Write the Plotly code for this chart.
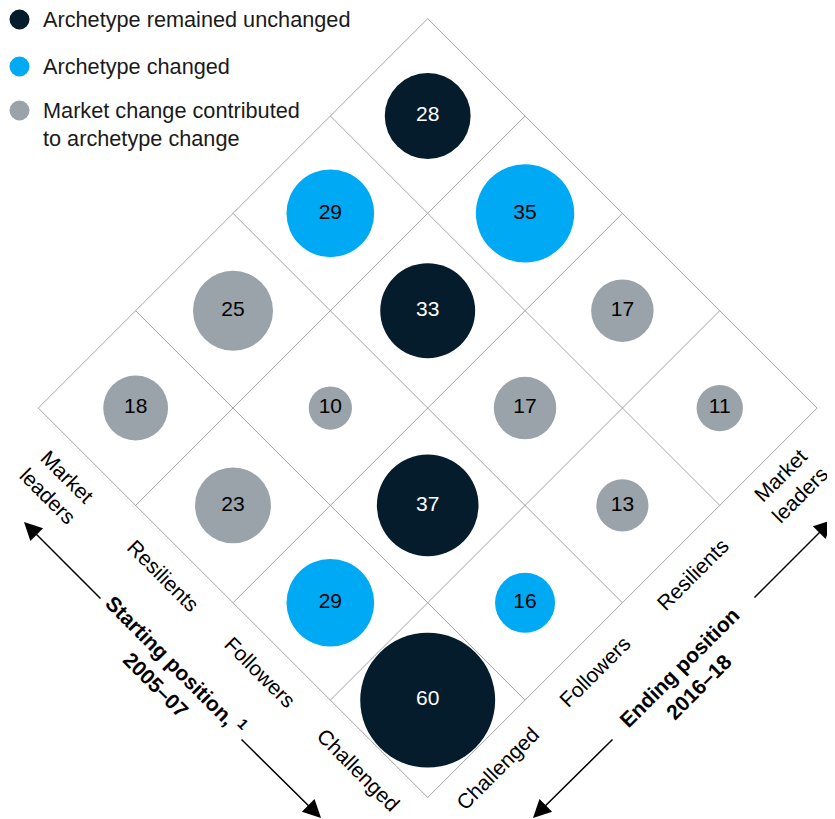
import math
import plotly.graph_objects as go

# ---------------- data ----------------
archetypes = ["Market leaders", "Resilients", "Followers", "Challenged"]
archetype_labels = ["Market<br>leaders", "Resilients", "Followers", "Challenged"]

# rows = starting position (2005-07), columns = ending position (2016-18)
values = [
    [28, 29, 25, 18],
    [35, 33, 10, 23],
    [17, 17, 37, 29],
    [11, 13, 16, 60],
]
status = [
    ["unchanged", "changed", "market", "market"],
    ["changed", "unchanged", "market", "market"],
    ["market", "market", "unchanged", "changed"],
    ["market", "market", "changed", "unchanged"],
]
status_order = ["unchanged", "changed", "market"]
legend_text = {
    "unchanged": "Archetype remained unchanged",
    "changed": "Archetype changed",
    "market": "Market change contributed<br>to archetype change",
}
start_title = "<b>Starting position, <sup>1</sup><br>2005–07</b>"
end_title = "<b>Ending position<br>2016–18</b>"

# ---------------- style ----------------
PAGE_W, PAGE_H = 835, 819
BODY_MARGIN = 8                      # browser default body margin
W, H = PAGE_W - BODY_MARGIN, PAGE_H - BODY_MARGIN
CX, CY, STEP = 427.7, 116.0, 97.35  # page pixel of cell (0,0) centre and cell step
FONT = "Liberation Sans, Arial, sans-serif"
COLORS = {"unchanged": "#051c2c", "changed": "#00a9f4", "market": "#9aa2aa"}
TEXT_COLORS = {"unchanged": "#ffffff", "changed": "#000000", "market": "#000000"}
GRID = "#a3a3a3"
R2 = math.sqrt(2)


def px(x, y):
    """page pixel -> data coordinates"""
    return (x - CX) / STEP, (y - CY) / STEP


def cell_uv(i, j):
    return i - j, i + j


def bubble_size(v):
    return 20 * math.sqrt(v) - 20


fig = go.Figure()

# bubbles
for st in status_order:
    xs, ys, sz, tx = [], [], [], []
    for i in range(4):
        for j in range(4):
            if status[i][j] == st:
                u, v = cell_uv(i, j)
                xs.append(u)
                ys.append(v)
                sz.append(bubble_size(values[i][j]))
                tx.append(str(values[i][j]))
    fig.add_trace(go.Scatter(
        x=xs, y=ys, mode="markers+text", text=tx,
        textposition="middle center",
        textfont=dict(family=FONT, size=21, color=TEXT_COLORS[st]),
        marker=dict(size=sz, color=COLORS[st], line=dict(width=0), opacity=1),
        showlegend=False, hoverinfo="skip", cliponaxis=False,
    ))

# grid lines
shapes = []
for k in range(5):
    b = k - 0.5
    shapes.append(dict(type="line", xref="x", yref="y",
                       x0=b + 0.5, y0=b - 0.5, x1=b - 3.5, y1=b + 3.5,
                       line=dict(color=GRID, width=1), layer="below"))
    shapes.append(dict(type="line", xref="x", yref="y",
                       x0=-0.5 - b, y0=b - 0.5, x1=3.5 - b, y1=b + 3.5,
                       line=dict(color=GRID, width=1), layer="below"))

# legend (manual)
legend_y = {"unchanged": 19.5, "changed": 66.5, "market": 110.5}
annotations = []
for st in status_order:
    cx, cy = 19.5, legend_y[st]
    x0, y0 = px(cx - 10, cy - 10)
    x1, y1 = px(cx + 10, cy + 10)
    shapes.append(dict(type="circle", xref="x", yref="y", x0=x0, y0=y0, x1=x1, y1=y1,
                       fillcolor=COLORS[st], line=dict(width=0)))
    extra = legend_text[st].count("<br>") * 14
    tx, ty = px(41, cy + extra)
    annotations.append(dict(x=tx, y=ty, xref="x", yref="y", text=legend_text[st],
                            showarrow=False, xanchor="left", yanchor="middle", align="left",
                            font=dict(family=FONT, size=21.7, color="#1a1a1a")))

# category labels
for k, lab in enumerate(archetype_labels):
    d = 42 if "<br>" in lab else 30
    u, v = k - 3.5, k + 3.5
    mx, my = CX + u * STEP, CY + v * STEP
    x, y = px(mx - d / R2, my + d / R2)
    annotations.append(dict(x=x, y=y, xref="x", yref="y", text=lab, showarrow=False,
                            textangle=45, xanchor="center", yanchor="middle",
                            font=dict(family=FONT, size=21, color="#000000")))
    u, v = 3.5 - k, 3.5 + k
    mx, my = CX + u * STEP, CY + v * STEP
    shift = -8 if "<br>" in lab else 0
    x, y = px(mx + d / R2 + shift, my + d / R2 - 1)
    annotations.append(dict(x=x, y=y, xref="x", yref="y", text=lab, showarrow=False,
                            textangle=-45, xanchor="center", yanchor="middle",
                            font=dict(family=FONT, size=21, color="#000000")))

# axis titles
mx, my = CX - 2 * STEP, CY + 5 * STEP
x, y = px(mx - 97.6 / R2 + 3, my + 97.6 / R2 + 3)
annotations.append(dict(x=x, y=y, xref="x", yref="y", text=start_title, showarrow=False,
                        textangle=45, xanchor="center", yanchor="middle",
                        font=dict(family=FONT, size=21, color="#000000")))
mx, my = CX + 2 * STEP, CY + 5 * STEP
x, y = px(mx + 100 / R2 - 4, my + 100 / R2 + 4)
annotations.append(dict(x=x, y=y, xref="x", yref="y", text=end_title, showarrow=False,
                        textangle=-45, xanchor="center", yanchor="middle",
                        font=dict(family=FONT, size=21, color="#000000")))

# arrows (tip, tail) in page pixels
arrows = [((24, 522), (102, 600)), ((321, 818), (240, 738)),
          ((533, 818), (614, 738)), ((832, 520), (753, 599))]
for (tx_, ty_), (ax_, ay_) in arrows:
    x, y = px(tx_, ty_)
    ax, ay = px(ax_, ay_)
    annotations.append(dict(x=x, y=y, ax=ax, ay=ay, xref="x", yref="y", axref="x", ayref="y",
                            text="", showarrow=True, arrowhead=2, arrowsize=2.4,
                            arrowwidth=1.5, arrowcolor="#000000", standoff=0))

xr = [px(BODY_MARGIN, 0)[0], px(PAGE_W, 0)[0]]
yr = [px(0, PAGE_H)[1], px(0, BODY_MARGIN)[1]]
fig.update_layout(
    width=W, height=H, margin=dict(l=0, r=0, t=0, b=0),
    paper_bgcolor="#ffffff", plot_bgcolor="#ffffff",
    xaxis=dict(range=xr, visible=False, fixedrange=True),
    yaxis=dict(range=yr, visible=False, fixedrange=True),
    shapes=shapes, annotations=annotations,
    font=dict(family=FONT),
)

fig.write_html("out.html")
